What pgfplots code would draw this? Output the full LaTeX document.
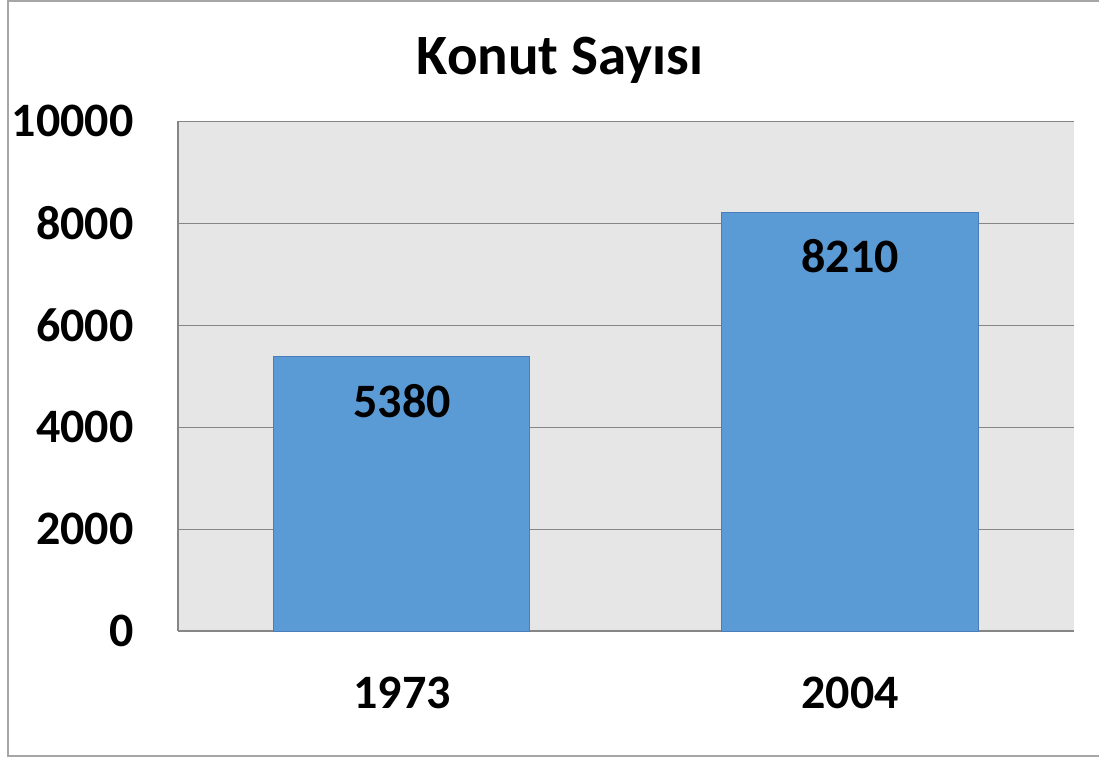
\documentclass[border=0pt]{standalone}
\usepackage{fontspec}
\setmainfont{Carlito}
\usepackage{pgfplots}
\pgfplotsset{compat=1.18}
\definecolor{barblue}{HTML}{5B9BD5}
\definecolor{baredge}{HTML}{4A7EBB}
\definecolor{plotbg}{HTML}{E6E6E6}
\definecolor{axgray}{HTML}{868686}
\begin{document}
\begin{tikzpicture}
\useasboundingbox (0,0) rectangle (549.5pt,378.5pt);
\draw[gray!70, line width=0.6pt] (4pt,0.5pt) rectangle (560pt,378pt);
\node[font=\bfseries\fontsize{28.5}{34}\selectfont, anchor=base, inner sep=0pt] at (280pt,341pt) {Konut Sayısı};
\begin{axis}[
  at={(89pt,63pt)}, anchor=south west, scale only axis,
  width=448pt, height=255pt,
  xmin=-0.5, xmax=1.5, ymin=0, ymax=10000,
  ytick={0,2000,...,10000}, xtick={0,1}, xticklabels={1973,2004},
  scaled y ticks=false,
  /pgf/number format/assume math mode=true,
  /pgf/number format/set thousands separator={},
  ticklabel style={font=\bfseries\fontsize{24}{29}\selectfont},
  yticklabel style={inner sep=0pt, anchor=east, xshift=-22pt},
  xticklabel style={inner sep=0pt, anchor=north, yshift=-23pt},
  major tick length=0pt,
  axis x line*=bottom, axis y line*=left,
  axis line style={draw=axgray, line width=0.6pt},
  x axis line style={line width=1pt},
  ymajorgrids, grid style={draw=axgray, line width=0.5pt},
  axis background/.style={fill=plotbg},
  axis on top=false,
  ybar, bar width=128pt,
  nodes near coords,
  every node near coord/.append style={font=\bfseries\fontsize{24}{29}\selectfont, anchor=center, yshift=-22pt, /pgf/number format/assume math mode=true, /pgf/number format/set thousands separator={}},
]
\addplot[fill=barblue, draw=baredge, line width=0.5pt] coordinates {(0,5380) (1,8210)};
\end{axis}
\end{tikzpicture}
\end{document}
